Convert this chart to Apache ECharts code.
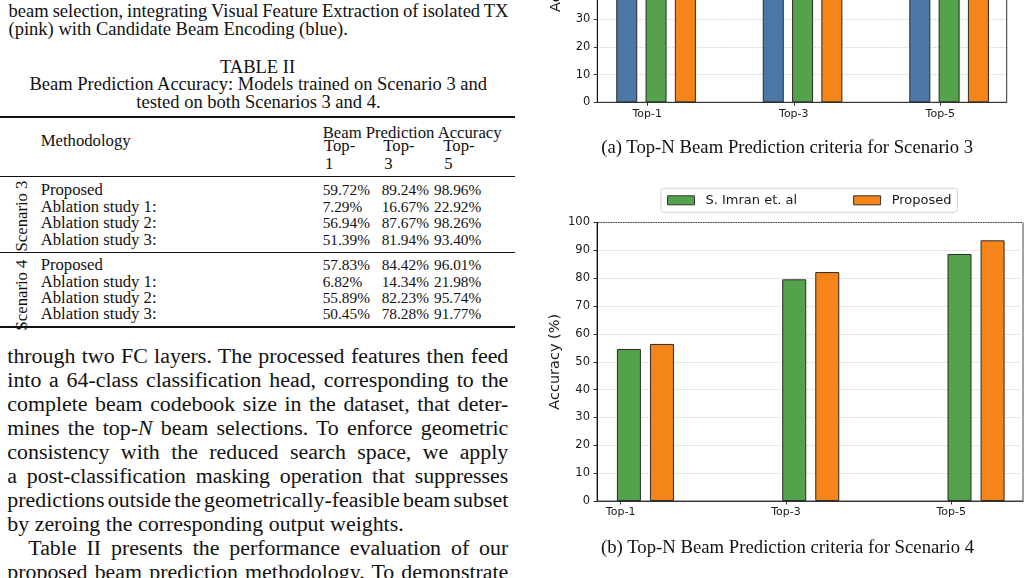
<!DOCTYPE html>
<html><head><meta charset="utf-8">
<script src="https://cdn.jsdelivr.net/npm/echarts@6/dist/echarts.min.js"></script>
<style>
html,body{margin:0;padding:0;background:#fff;}
body{width:1030px;height:578px;overflow:hidden;position:relative;}
.t{position:absolute;white-space:nowrap;line-height:1;font-family:"Liberation Serif","Times New Roman",serif;color:#111;}
.rule{position:absolute;left:0;width:515px;background:#111;}
#chart{position:absolute;left:530px;top:-200px;width:500px;height:778px;}
</style></head><body>
<div id="chart"></div>
<script>
// ---------------- data ----------------
const CATEGORIES = ['Top-1', 'Top-3', 'Top-5'];
// Scenario 3 chart (only the lower part, below 30 %, is visible)
const SC3_BASELINE = [45.0, 76.0, 88.0];
const SC3_IMRAN = [54.0, 83.0, 94.0];
const SC3_PROPOSED = [59.72, 89.24, 98.96];
// Scenario 4 chart
const SC4_IMRAN = [54.6, 79.6, 88.7];
const SC4_PROPOSED = [56.4, 82.2, 93.6];
const SERIES_NAMES = ['Baseline', 'S. Imran et. al', 'Proposed'];

// Table II
const TABLE_METHODS = ['Proposed', 'Ablation study 1:', 'Ablation study 2:', 'Ablation study 3:'];
const TABLE_SCEN3 = [[59.72, 89.24, 98.96], [7.29, 16.67, 22.92], [56.94, 87.67, 98.26], [51.39, 81.94, 93.40]];
const TABLE_SCEN4 = [[57.83, 84.42, 96.01], [6.82, 14.34, 21.98], [55.89, 82.23, 95.74], [50.45, 78.28, 91.77]];
const TABLE_TOPN = ['1', '3', '5'];

// ---------------- HTML text layout ----------------
function place(html, x, y, opt) {
  opt = opt || {};
  const el = document.createElement('div');
  el.className = 't';
  el.innerHTML = html;
  el.style.left = x + 'px';
  el.style.top = y + 'px';
  let tr = opt.center ? 'translate(-50%,-50%)' : 'translateY(-50%)';
  if (opt.rotate) tr += ' rotate(-90deg)';
  el.style.transform = tr;
  document.body.appendChild(el);
  return el;
}
function rule(y, h) {
  const r = document.createElement('div');
  r.className = 'rule';
  r.style.top = (y - h / 2) + 'px';
  r.style.height = h + 'px';
  document.body.appendChild(r);
}
function fitGroup(els, ref, target) {
  ref.style.fontSize = '20px';
  const w = ref.getBoundingClientRect().width;
  const fs = 20 * target / w;
  els.forEach(e => e.style.fontSize = fs + 'px');
  return fs;
}
function justify(el, width) {
  el.style.wordSpacing = '0px';
  const w = el.getBoundingClientRect().width;
  const n = (el.textContent.match(/ /g) || []).length;
  if (n) el.style.wordSpacing = ((width - w) / n) + 'px';
}

// table caption
const tc0 = place('TABLE II', 257.5, 66.5, {center: true});
const tc1 = place('Beam Prediction Accuracy: Models trained on Scenario 3 and', 258.3, 84.3, {center: true});
const tc2 = place('tested on both Scenarios 3 and 4.', 258.5, 101.5, {center: true});
const capFs = fitGroup([tc0, tc1, tc2], tc1, 458);

// figure caption (top of column), same caption size
const cap1 = place('beam selection, integrating Visual Feature Extraction of isolated TX', 8.5, 10.5);
const cap2 = place('(pink) with Candidate Beam Encoding (blue).', 8.5, 28.5);
[cap1, cap2].forEach(e => e.style.fontSize = capFs + 'px');
justify(cap1, 500);

// table
rule(117.3, 1.8); rule(176.7, 0.9); rule(252.7, 1.2); rule(326.7, 1.8);
const tEls = [];
const numEls = [];
tEls.push(place('Methodology', 40.7, 140.7));
tEls.push(place('Beam Prediction Accuracy', 322.7, 132.7));
const colX = [322.7, 381.7, 434];
const topX = [324, 383.3, 443.3];
TABLE_TOPN.forEach((n, i) => {
  tEls.push(place('Top-', topX[i], 146));
  tEls.push(place(n, topX[i] + 1, 164));
});
const rows3 = [190, 206.7, 223.3, 240];
const rows4 = [265, 281.7, 298.3, 314];
let abl1 = null;
[[TABLE_SCEN3, rows3], [TABLE_SCEN4, rows4]].forEach(([tab, ys]) => {
  TABLE_METHODS.forEach((m, r) => {
    const e = place(m, 40.7, ys[r]); tEls.push(e);
    if (!abl1 && r === 1) abl1 = e;
    tab[r].forEach((v, c) => numEls.push(place(v.toFixed(2) + '%', colX[c], ys[r])));
  });
});
tEls.push(place('Scenario 3', 21.7, 215.5, {center: true, rotate: true}));
tEls.push(place('Scenario 4', 21.7, 294.5, {center: true, rotate: true}));
fitGroup(tEls, abl1, 116);
fitGroup(numEls, numEls[0], 47.3);

// body text
const BODY = [
  ['through two FC layers. The processed features then feed', 1, 0],
  ['into a 64-class classification head, corresponding to the', 1, 0],
  ['complete beam codebook size in the dataset, that deter-', 1, 0],
  ['mines the top-<i>N</i> beam selections. To enforce geometric', 1, 0],
  ['consistency with the reduced search space, we apply', 1, 0],
  ['a post-classification masking operation that suppresses', 1, 0],
  ['predictions outside the geometrically-feasible beam subset', 1, 0],
  ['by zeroing the corresponding output weights.', 0, 0],
  ['Table II presents the performance evaluation of our', 1, 1],
  ['proposed beam prediction methodology. To demonstrate', 1, 0]
];
const bodyEls = BODY.map((b, i) => place(b[0], b[2] ? 28.3 : 7.3, 355.5 + 24.1 * i));
fitGroup(bodyEls, bodyEls[7], 396.7);
BODY.forEach((b, i) => { if (b[1]) justify(bodyEls[i], b[2] ? 480 : 501); });

// sub-figure captions
const fa = place('(a) Top-N Beam Prediction criteria for Scenario 3', 787.2, 146.7, {center: true});
const fb = place('(b) Top-N Beam Prediction criteria for Scenario 4', 787.6, 546.7, {center: true});
fitGroup([fa, fb], fa, 372.3);

// ---------------- charts ----------------
const SANS = '"DejaVu Sans", Verdana, sans-serif';
const BLUE = '#4c78a8', GREEN = '#54a24b', ORANGE = '#f58518';
const EDGE = '#2a2a2a';
const OFF_A = [-0.14, 0.06, 0.26];
const OFF_B = [0.05, 0.25];

function bars(name, vals, ai, off, color, bw) {
  return {
    type: 'bar', name: name, xAxisIndex: ai, yAxisIndex: ai,
    barWidth: bw, barGap: '-100%',
    data: vals.map((v, i) => [i + off, v]),
    itemStyle: {color: color, borderColor: EDGE, borderWidth: 1},
    emphasis: {disabled: true}
  };
}
function xAx(gi, min, max) {
  return {
    type: 'value', gridIndex: gi, min: min, max: max,
    axisLine: {show: true, onZero: false, lineStyle: {color: '#333', width: 1}},
    axisTick: {show: true, customValues: [0, 1, 2], length: 3.5, lineStyle: {color: '#333'}},
    axisLabel: {show: true, customValues: [0, 1, 2], formatter: v => CATEGORIES[Math.round(v)],
      fontFamily: SANS, fontSize: 11, color: '#1a1a1a', margin: 6},
    splitLine: {show: false}
  };
}
function yAx(gi) {
  return {
    type: 'value', gridIndex: gi, min: 0, max: 100, interval: 10,
    name: 'Accuracy (%)', nameLocation: 'middle', nameRotate: 90, nameGap: 34,
    nameMoveOverlap: false,
    nameTextStyle: {fontFamily: SANS, fontSize: 14.5, color: '#1a1a1a'},
    axisLine: {show: true, onZero: false, lineStyle: {color: '#111', width: 1}},
    axisTick: {show: true, length: 3.5, lineStyle: {color: '#333'}},
    axisLabel: {fontFamily: SANS, fontSize: 11.5, color: '#1a1a1a', margin: 7},
    splitLine: {show: true, lineStyle: {type: [1, 1.5], color: '#c4c4c4', width: 1}}
  };
}

const chart = echarts.init(document.getElementById('chart'), null, {renderer: 'canvas'});
chart.setOption({
  animation: false,
  backgroundColor: 'transparent',
  grid: [
    {left: 67.3, top: 25.6, width: 409.4, height: 276.7, show: true, borderColor: '#333', borderWidth: 1, backgroundColor: 'transparent', containLabel: false, outerBoundsMode: 'none'},
    {left: 67, top: 422.5, width: 426, height: 278.5, show: true, borderColor: '#444', borderWidth: 1, backgroundColor: 'transparent', containLabel: false, outerBoundsMode: 'none'}
  ],
  xAxis: [xAx(0, -0.341, 2.453), xAx(1, -0.143, 2.434)],
  yAxis: [yAx(0), yAx(1)],
  legend: {
    data: [SERIES_NAMES[1], SERIES_NAMES[2]],
    left: 131, top: 388.3, orient: 'horizontal',
    icon: 'rect', itemWidth: 27, itemHeight: 9, itemGap: 56,
    padding: [5.5, 6, 5.5, 6],
    backgroundColor: '#fff', borderColor: '#d4d4d4', borderWidth: 1, borderRadius: 3,
    selectedMode: false,
    itemStyle: {borderColor: '#333', borderWidth: 1},
    textStyle: {fontFamily: SANS, fontSize: 13, color: '#1a1a1a', padding: [0, 0, 0, 6]}
  },
  series: [
    bars(SERIES_NAMES[0], SC3_BASELINE, 0, OFF_A[0], BLUE, 21),
    bars(SERIES_NAMES[1], SC3_IMRAN, 0, OFF_A[1], GREEN, 21),
    bars(SERIES_NAMES[2], SC3_PROPOSED, 0, OFF_A[2], ORANGE, 21),
    bars(SERIES_NAMES[1], SC4_IMRAN, 1, OFF_B[0], GREEN, 24),
    bars(SERIES_NAMES[2], SC4_PROPOSED, 1, OFF_B[1], ORANGE, 24)
  ]
});
</script></body></html>
